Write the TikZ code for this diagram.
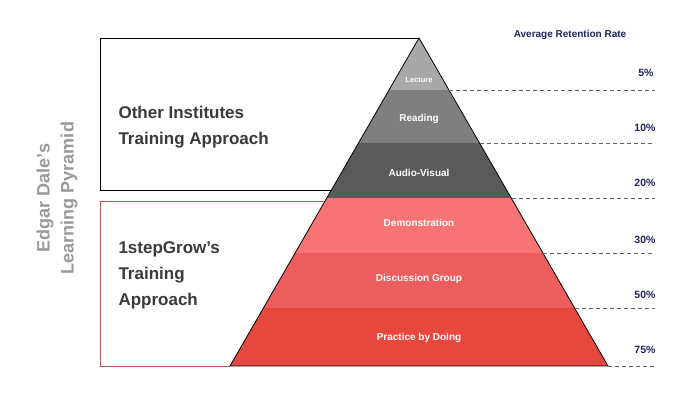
\documentclass[tikz,border=0pt]{standalone}
\usepackage{fontspec}
\setmainfont{Liberation Sans}
\begin{document}
\begin{tikzpicture}[x=1pt,y=-1pt,
  band/.style={font=\bfseries\fontsize{10}{12}\selectfont,text=white},
  pct/.style={anchor=east,font=\bfseries\fontsize{10.5}{12}\selectfont,text=navy},
  big/.style={anchor=west,align=left,font=\bfseries\fontsize{17}{26}\selectfont,text=txt},
  dashl/.style={draw=gray!80!black,dash pattern=on 4pt off 3pt,line width=1pt}]
\definecolor{navy}{HTML}{23235E}
\definecolor{txt}{HTML}{3A3A3A}
\definecolor{redb}{HTML}{B85A5A}
\definecolor{c1}{HTML}{A8A8A8}
\definecolor{c2}{HTML}{7F7F7F}
\definecolor{c3}{HTML}{5A5A5A}
\definecolor{c4}{HTML}{F87474}
\definecolor{c5}{HTML}{EE5D5D}
\definecolor{c6}{HTML}{E6483E}
\useasboundingbox (0,0) rectangle (700,400);
\fill[white] (0,0) rectangle (700,400);
% boxes
\draw[black,line width=0.8pt] (331,190) -- (100,190) -- (100,38) -- (419,38);
\draw[redb,line width=0.8pt] (325,201) -- (100,201) -- (100,366) -- (230,366);
% bands
\begin{scope}
\clip (419,38) -- (608,366) -- (230,366) -- cycle;
\fill[c1] (200,30) rectangle (640,90);
\fill[c2] (200,90) rectangle (640,143);
\fill[c3] (200,143) rectangle (640,198);
\fill[c4] (200,198) rectangle (640,253);
\fill[c5] (200,253) rectangle (640,308);
\fill[c6] (200,308) rectangle (640,366);
\end{scope}
\draw[black,line width=0.8pt] (419,38) -- (608,366) -- (230,366) -- cycle;
% dashed
\draw[dashl] (449,90) -- (655,90);
\draw[dashl] (480,143) -- (655,143);
\draw[dashl] (512,198) -- (655,198);
\draw[dashl] (543,253) -- (655,253);
\draw[dashl] (575,308) -- (655,308);
\draw[dashl] (608,366) -- (655,366);
% band labels
\node[band,font=\bfseries\fontsize{7.5}{9}\selectfont] (l1) at (419,80) {Lecture};
\node[band] (l2) at (419,119) {Reading};
\node[band] (l3) at (419,173) {Audio-Visual};
\node[band] (l4) at (419,223) {Demonstration};
\node[band] (l5) at (419,279) {Discussion Group};
\node[band] (l6) at (419,338) {Practice by Doing};
% percentages
\node[font=\bfseries\fontsize{10}{12}\selectfont,text=navy] (t) at (570,35) {Average Retention Rate};
\node[pct] (p1) at (657,73) {5\%};
\node[pct] (p2) at (659,128) {10\%};
\node[pct] (p3) at (659,183) {20\%};
\node[pct] (p4) at (659,240) {30\%};
\node[pct] (p5) at (659,295) {50\%};
\node[pct] (p6) at (659,350) {75\%};
% box texts
\node[big] (o) at (115,127) {Other Institutes\\Training Approach};
\node[big] (s) at (115,275) {1stepGrow’s\\Training\\Approach};
\node[rotate=90,align=center,font=\bfseries\fontsize{18}{24}\selectfont,text=gray!80] (v) at (57,198) {Edgar Dale’s\\Learning Pyramid};
\end{tikzpicture}
\end{document}
